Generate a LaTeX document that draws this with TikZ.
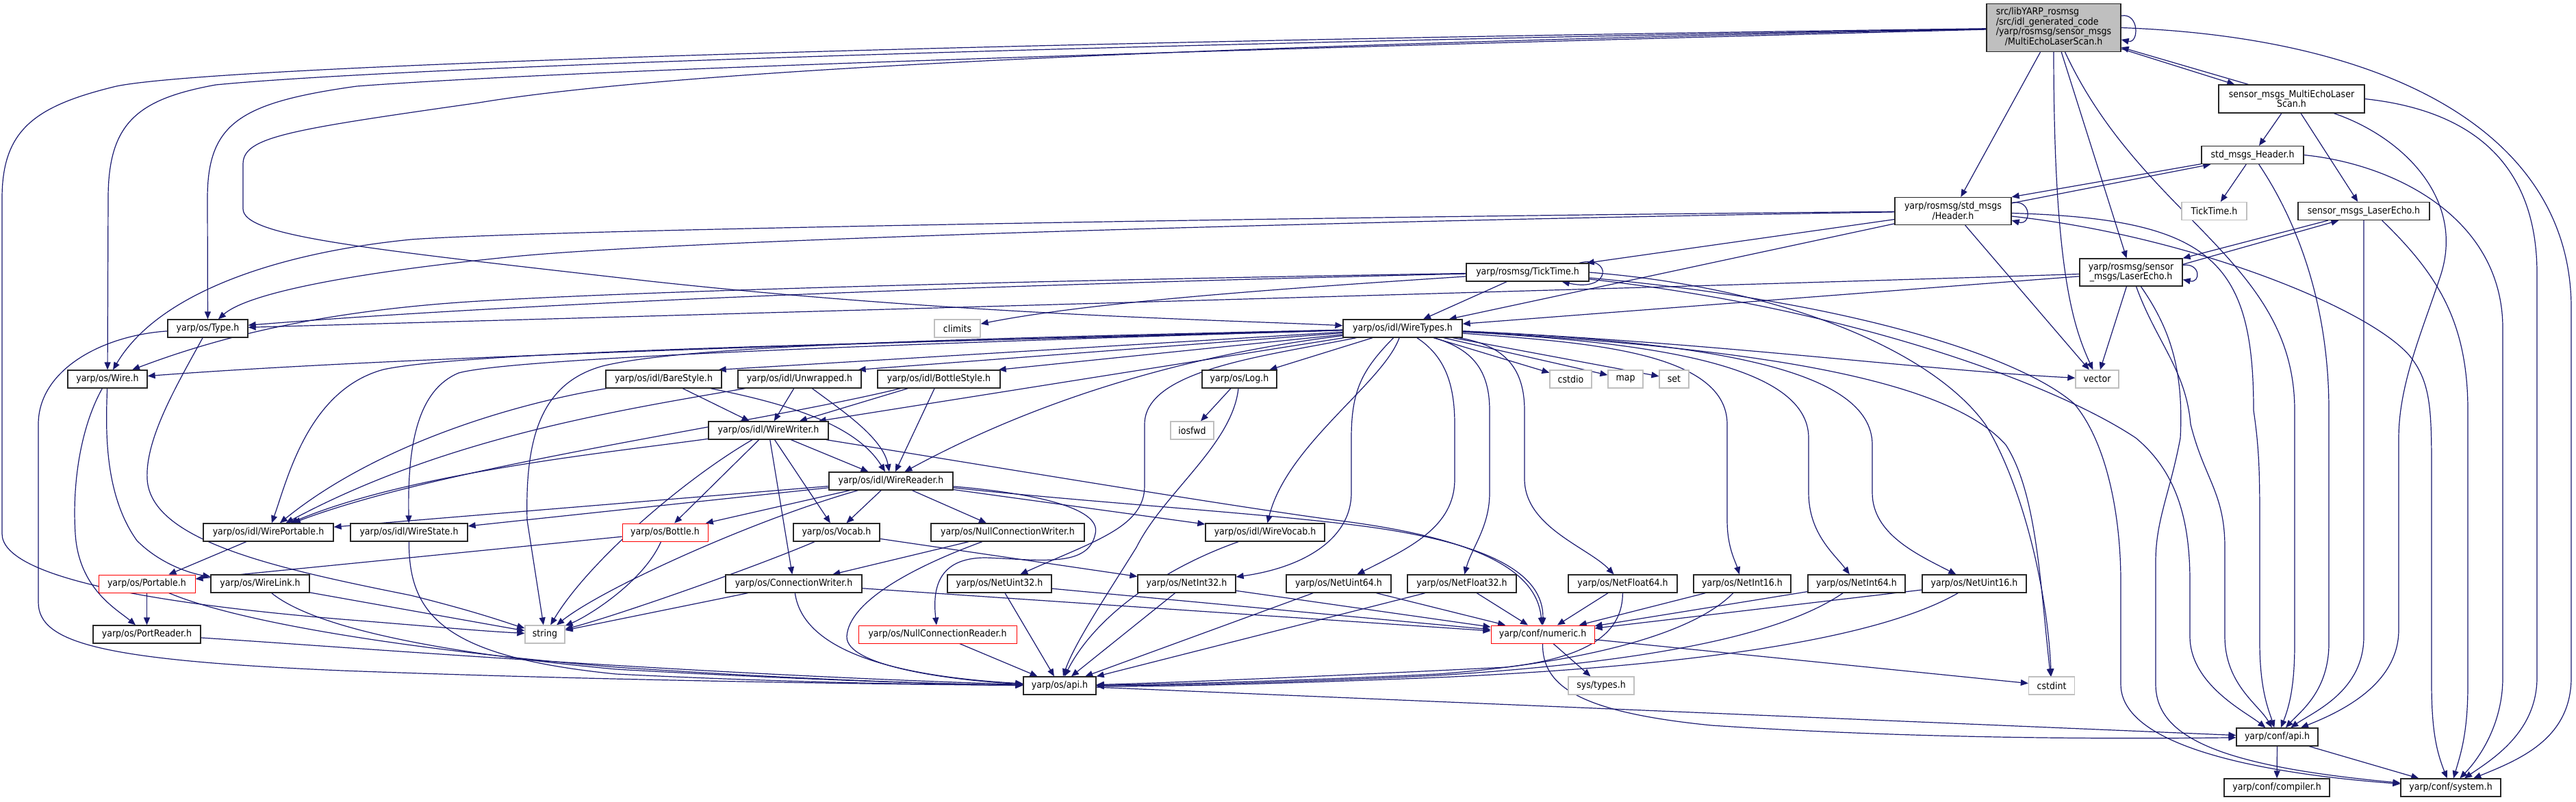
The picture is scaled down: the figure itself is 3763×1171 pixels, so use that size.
\documentclass[tikz,border=0pt]{standalone}
\usepackage{fontspec}
\newfontfamily\dfont{DejaVu Sans Condensed}
\usetikzlibrary{arrows.meta,calc}
\definecolor{eb}{HTML}{191970}
\definecolor{gb}{HTML}{BFBFBF}
\pgfdeclarelayer{bg}
\pgfsetlayers{bg,main}
\newcommand{\nfont}{\dfont\fontsize{14pt}{14.4pt}\selectfont}
\tikzset{
  nd/.style={draw=black!85, line width=1.3pt, fill=white, rectangle, inner sep=0pt, minimum height=26pt, font=\nfont, text=black},
  ex/.style={nd, draw=gb},
  rd/.style={nd, draw=red, line width=1pt},
  mn/.style={nd, fill=gb},
  e/.style={draw=eb, line width=1.2pt, -{Triangle[length=11pt,width=9pt]}}
}
\begin{document}
\begin{tikzpicture}[x=1pt,y=-1pt]
\useasboundingbox (0,0) rectangle (3763,1171);
% ---------------- nodes ----------------
\node[mn, minimum width=196pt, minimum height=70pt] (main) at (3000,40.5) {\begin{tabular}{@{}l@{}}src/libYARP\_rosmsg\\/src/idl\_generated\_code\\/yarp/rosmsg/sensor\_msgs\\\multicolumn{1}{@{}c@{}}{/MultiEchoLaserScan.h}\end{tabular}};
\node[nd, minimum width=213pt, minimum height=41pt, align=center] (multi) at (3347.5,144.5) {sensor\_msgs\_MultiEchoLaser\\Scan.h};
\node[nd, minimum width=149pt] (stdhdr) at (3290.5,226.5) {std\_msgs\_Header.h};
\node[nd, minimum width=170pt, minimum height=40pt, align=center] (roshdr) at (2853,308.5) {yarp/rosmsg/std\_msgs\\/Header.h};
\node[ex, minimum width=95pt] (tickext) at (3234.5,308.5) {TickTime.h};
\node[nd, minimum width=192pt] (laserecho) at (3453,308.5) {sensor\_msgs\_LaserEcho.h};
\node[nd, minimum width=179pt] (rostick) at (2231.5,398) {yarp/rosmsg/TickTime.h};
\node[nd, minimum width=150pt, minimum height=40pt, align=center] (rosecho) at (3113,398) {yarp/rosmsg/sensor\\\_msgs/LaserEcho.h};
\node[nd, minimum width=117pt] (type) at (303.5,480) {yarp/os/Type.h};
\node[ex, minimum width=67pt] (climits) at (1398.5,480) {climits};
\node[nd, minimum width=174pt] (wiretypes) at (2049,480) {yarp/os/idl/WireTypes.h};
\node[nd, minimum width=116pt] (wire) at (157,554) {yarp/os/Wire.h};
\node[nd, minimum width=169pt] (bare) at (969.5,554) {yarp/os/idl/BareStyle.h};
\node[nd, minimum width=180pt] (unwrapped) at (1168,554) {yarp/os/idl/Unwrapped.h};
\node[nd, minimum width=179pt] (bottlestyle) at (1371.5,554) {yarp/os/idl/BottleStyle.h};
\node[nd, minimum width=109pt] (log) at (1810.5,554) {yarp/os/Log.h};
\node[ex, minimum width=61pt] (cstdio) at (2294.5,554) {cstdio};
\node[ex, minimum width=51pt] (map) at (2374.5,554) {map};
\node[ex, minimum width=43pt] (set) at (2445.5,554) {set};
\node[ex, minimum width=63pt] (vector) at (3063.5,554) {vector};
\node[nd, minimum width=175pt] (wirewriter) at (1122.5,629) {yarp/os/idl/WireWriter.h};
\node[ex, minimum width=63pt] (iosfwd) at (1741.5,629) {iosfwd};
\node[nd, minimum width=181pt] (wirereader) at (1301.5,703) {yarp/os/idl/WireReader.h};
\node[nd, minimum width=190pt] (wireportable) at (392,778) {yarp/os/idl/WirePortable.h};
\node[nd, minimum width=171pt] (wirestate) at (597.5,778) {yarp/os/idl/WireState.h};
\node[rd, minimum width=125pt] (bottle) at (971.5,778) {yarp/os/Bottle.h};
\node[nd, minimum width=126pt] (vocab) at (1222,778) {yarp/os/Vocab.h};
\node[nd, minimum width=224pt] (nullwriter) at (1472,778) {yarp/os/NullConnectionWriter.h};
\node[nd, minimum width=174pt] (wirevocab) at (1848,778) {yarp/os/idl/WireVocab.h};
\node[rd, minimum width=141pt] (portable) at (214.5,853) {yarp/os/Portable.h};
\node[nd, minimum width=144pt] (wirelink) at (380,853) {yarp/os/WireLink.h};
\node[nd, minimum width=199pt] (connwriter) at (1159.5,853) {yarp/os/ConnectionWriter.h};
\node[nd, minimum width=152pt] (netuint32) at (1460,853) {yarp/os/NetUint32.h};
\node[nd, minimum width=143pt] (netint32) at (1733.5,853) {yarp/os/NetInt32.h};
\node[nd, minimum width=153pt] (netuint64) at (1955.5,853) {yarp/os/NetUint64.h};
\node[nd, minimum width=159pt] (netfloat32) at (2135.5,853) {yarp/os/NetFloat32.h};
\node[nd, minimum width=159pt] (netfloat64) at (2370.5,853) {yarp/os/NetFloat64.h};
\node[nd, minimum width=142pt] (netint16) at (2545,853) {yarp/os/NetInt16.h};
\node[nd, minimum width=142pt] (netint64) at (2712,853) {yarp/os/NetInt64.h};
\node[nd, minimum width=152pt] (netuint16) at (2884,853) {yarp/os/NetUint16.h};
\node[nd, minimum width=157pt] (portreader) at (214.5,927) {yarp/os/PortReader.h};
\node[ex, minimum width=58pt] (string) at (796,927) {string};
\node[rd, minimum width=231pt] (nullreader) at (1369.5,927) {yarp/os/NullConnectionReader.h};
\node[rd, minimum width=151pt] (numeric) at (2253.5,927) {yarp/conf/numeric.h};
\node[nd, minimum width=106pt] (osapi) at (1548,1002) {yarp/os/api.h};
\node[ex, minimum width=96pt] (systypes) at (2339,1002) {sys/types.h};
\node[ex, minimum width=67pt] (cstdint) at (2997,1002) {cstdint};
\node[nd, minimum width=119pt] (confapi) at (3326.5,1077) {yarp/conf/api.h};
\node[nd, minimum width=154pt] (compiler) at (3326,1151) {yarp/conf/compiler.h};
\node[nd, minimum width=146pt] (system) at (3580,1151) {yarp/conf/system.h};
% ---------------- edges ----------------
\begin{pgfonlayer}{bg}
% main
\draw[e] (main.10) .. controls (3125,18) and (3125,64) .. (main.-10);
\draw[e] (main) -- ($(multi.north west)+(24,0)$);
\draw[e] ($(multi.north west)+(44,0)$) -- (main);
\draw[e] (main) -- (roshdr);
\draw[e] (main) .. controls (3000,400) and (3030,480) .. (vector);
\draw[e] (main) -- (rosecho);
\draw[e] (main) .. controls (3130,320) and (3352,380) .. (3352,600) -- (3352,940) .. controls (3352,1000) and (3345,1030) .. (confapi);
\draw[e] (main.east) .. controls (3500,55) and (3756,200) .. (3756,450) -- (3756,990) .. controls (3756,1080) and (3680,1110) .. (system);
\draw[e] (main) .. controls (1500,60) and (320,95) .. (170,126) .. controls (50,155) and (3,190) .. (3,290) -- (3,780) .. controls (3,840) and (200,880) .. (500,905) .. controls (650,917) and (700,922) .. (string);
\draw[e] (main) .. controls (1500,66) and (560,100) .. (315,124) .. controls (200,145) and (158,180) .. (158,290) -- (wire);
\draw[e] (main) .. controls (1500,80) and (800,105) .. (521,126) .. controls (350,150) and (303,180) .. (303,290) -- (type);
\draw[e] (main) .. controls (1800,65) and (1000,100) .. (700,150) .. controls (420,190) and (355,200) .. (355,240) -- (355,305) .. controls (355,345) and (520,362) .. (950,411) .. controls (1400,460) and (1800,468) .. (wiretypes);
% multi
\draw[e] (multi) -- (stdhdr);
\draw[e] (multi) -- (laserecho);
\draw[e] (multi) .. controls (3510,200) and (3600,290) .. (3566,400) .. controls (3540,480) and (3504,560) .. (3504,640) -- (3504,920) .. controls (3504,1000) and (3420,1040) .. (confapi);
\draw[e] (multi.east) .. controls (3600,160) and (3706,230) .. (3706,400) -- (3706,990) .. controls (3706,1070) and (3640,1110) .. (system);
% stdhdr
\draw[e] (stdhdr) -- (roshdr.north east);
\draw[e] ($(roshdr.north east)+(0,9)$) -- ($(stdhdr.south west)+(14,0)$);
\draw[e] (stdhdr) -- (tickext);
\draw[e] (stdhdr) .. controls (3340,300) and (3402,420) .. (3402,600) -- (3402,940) .. controls (3402,1010) and (3360,1040) .. (confapi);
\draw[e] (stdhdr.east) .. controls (3500,240) and (3656,320) .. (3656,480) -- (3656,990) .. controls (3656,1060) and (3620,1110) .. (system);
% laserecho
\draw[e] (laserecho) -- (rosecho.north east);
\draw[e] ($(rosecho.north east)+(0,9)$) -- ($(laserecho.south west)+(60,0)$);
\draw[e] (laserecho) .. controls (3453,450) and (3453,500) .. (3453,600) -- (3453,930) .. controls (3453,1010) and (3380,1040) .. (confapi);
\draw[e] ($(laserecho.south east)+(-70,0)$) .. controls (3560,400) and (3605,470) .. (3605,600) -- (3605,1000) .. controls (3605,1070) and (3595,1100) .. (system);
% roshdr
\draw[e] (roshdr.8) .. controls (2968,290) and (2968,330) .. (roshdr.-9);
\draw[e] (roshdr) -- ($(rostick.north east)+(-4,0)$);
\draw[e] (roshdr) -- ($(wiretypes.north east)+(-20,0)$);
\draw[e] (roshdr) -- (vector);
\draw[e] (roshdr.-2) .. controls (3230,320) and (3292,380) .. (3292,600) .. controls (3301,660) and (3301,700) .. (3301,780) -- (3301,940) .. controls (3301,1010) and (3315,1040) .. (confapi);
\draw[e] (roshdr.-5) .. controls (3200,345) and (3460,450) .. (3520,520) .. controls (3552,560) and (3552,600) .. (3552,700) -- (3552,1000) .. controls (3552,1070) and (3560,1100) .. (system);
\draw[e] (roshdr) .. controls (2000,316) and (800,335) .. (600,350) .. controls (400,370) and (230,430) .. (wire);
\draw[e] (roshdr) .. controls (2000,322) and (1000,350) .. (750,375) .. controls (500,400) and (360,430) .. (type);
% rosecho
\draw[e] (rosecho.8) .. controls (3215,384) and (3215,414) .. (rosecho.-8);
\draw[e] (rosecho) -- (vector);
\draw[e] (rosecho) -- (wiretypes);
\draw[e] (rosecho) .. controls (2600,415) and (1200,455) .. (type);
\draw[e] (rosecho) .. controls (3150,500) and (3193,540) .. (3200,620) .. controls (3220,700) and (3250,720) .. (3250,800) -- (3250,930) .. controls (3250,1000) and (3300,1030) .. (confapi);
\draw[e] (rosecho) .. controls (3170,480) and (3190,540) .. (3185,640) .. controls (3170,720) and (3149,760) .. (3149,820) -- (3149,1000) .. controls (3149,1080) and (3250,1120) .. (system);
% rostick
\draw[e] ($(rostick.north east)+(-15,0)$) .. controls (2355,372) and (2355,428) .. ($(rostick.south east)+(-40,0)$);
\draw[e] (rostick) -- ($(wiretypes.north)+(30,0)$);
\draw[e] (rostick) .. controls (1500,410) and (950,425) .. (700,440) .. controls (450,455) and (300,500) .. (wire);
\draw[e] (rostick) .. controls (1500,415) and (800,440) .. (type);
\draw[e] (rostick) .. controls (1900,420) and (1600,440) .. (climits);
\draw[e] (rostick.east) .. controls (2600,420) and (2820,510) .. (2900,620) .. controls (2950,700) and (2990,850) .. (cstdint);
\draw[e] (rostick) .. controls (2700,450) and (3000,560) .. (3120,640) .. controls (3180,690) and (3199,760) .. (3199,850) -- (3199,930) .. controls (3199,1000) and (3280,1040) .. (confapi);
\draw[e] (rostick) .. controls (2700,440) and (2950,520) .. (3030,590) .. controls (3080,650) and (3098,760) .. (3098,850) -- (3098,1000) .. controls (3098,1090) and (3300,1130) .. (system);
% wiretypes
\draw[e] (wiretypes) -- ($(bare.north east)+(-5,0)$);
\draw[e] (wiretypes) -- ($(unwrapped.north east)+(-5,0)$);
\draw[e] (wiretypes) -- ($(bottlestyle.north east)+(-3,0)$);
\draw[e] (wiretypes) .. controls (1400,500) and (700,510) .. (560,540) .. controls (450,570) and (420,700) .. (wireportable);
\draw[e] (wiretypes) .. controls (1500,497) and (760,520) .. (670,545) .. controls (610,570) and (595,650) .. (wirestate);
\draw[e] (wiretypes) -- ($(wirewriter.north east)+(-15,0)$);
\draw[e] (wiretypes) .. controls (1800,510) and (1560,560) .. ($(wirereader.north)+(20,0)$);
\draw[e] (wiretypes) .. controls (1400,497) and (600,520) .. (wire);
\draw[e] (wiretypes) .. controls (2020,560) and (1880,650) .. (wirevocab);
\draw[e] (wiretypes) -- (log);
\draw[e] (wiretypes) .. controls (1850,520) and (1672,540) .. (1672,620) -- (1672,710) .. controls (1672,770) and (1600,790) .. (netuint32);
\draw[e] (wiretypes) .. controls (1990,540) and (1974,570) .. (1974,640) -- (1974,720) .. controls (1974,790) and (1900,830) .. (netint32);
\draw[e] (wiretypes) .. controls (2110,520) and (2125,560) .. (2125,620) -- (2125,700) .. controls (2125,770) and (2060,800) .. (netuint64);
\draw[e] (wiretypes) .. controls (2150,510) and (2176,540) .. (2176,600) -- (2176,720) .. controls (2176,770) and (2150,800) .. (netfloat32);
\draw[e] (wiretypes) .. controls (2200,505) and (2227,540) .. (2227,600) -- (2227,700) .. controls (2227,770) and (2320,800) .. (netfloat64);
\draw[e] (wiretypes) .. controls (2300,500) and (2523,510) .. (2523,620) -- (2523,760) .. controls (2523,800) and (2535,820) .. (netint16);
\draw[e] (wiretypes) .. controls (2400,500) and (2642,530) .. (2642,640) -- (2642,720) .. controls (2642,780) and (2680,810) .. (netint64);
\draw[e] (wiretypes) .. controls (2500,500) and (2735,540) .. (2735,650) -- (2735,720) .. controls (2735,780) and (2800,810) .. (netuint16);
\draw[e] (wiretypes) -- (cstdio);
\draw[e] (wiretypes) -- (map);
\draw[e] (wiretypes) -- (set);
\draw[e] (wiretypes) .. controls (2500,500) and (2800,540) .. (vector);
\draw[e] (wiretypes) .. controls (2600,510) and (2850,560) .. (2930,650) .. controls (2975,720) and (2980,850) .. (cstdint);
\draw[e] (wiretypes) .. controls (1400,495) and (1000,505) .. (880,535) .. controls (790,560) and (767,640) .. (770,760) -- (string);
% style headers
\draw[e] (bare) .. controls (750,590) and (550,650) .. (wireportable);
\draw[e] (bare) -- (wirewriter);
\draw[e] (bare) .. controls (1150,590) and (1250,620) .. (wirereader);
\draw[e] (unwrapped) .. controls (900,600) and (650,640) .. (wireportable);
\draw[e] (unwrapped) -- (wirewriter);
\draw[e] (unwrapped) .. controls (1230,600) and (1290,640) .. (wirereader);
\draw[e] (bottlestyle) -- (wirewriter);
\draw[e] (bottlestyle) .. controls (1100,620) and (650,680) .. (wireportable);
\draw[e] (bottlestyle) -- (wirereader);
% wirewriter
\draw[e] (wirewriter) .. controls (900,660) and (600,690) .. (wireportable);
\draw[e] (wirewriter) -- (bottle);
\draw[e] (wirewriter) -- (vocab);
\draw[e] (wirewriter) -- (connwriter);
\draw[e] (wirewriter) -- (wirereader);
\draw[e] (wirewriter) .. controls (1000,700) and (860,820) .. (string);
\draw[e] (wirewriter) .. controls (1500,690) and (1800,740) .. (1950,760) .. controls (2150,785) and (2245,830) .. (numeric);
% wirereader
\draw[e] (wirereader) -- (wireportable);
\draw[e] (wirereader) -- (wirestate);
\draw[e] (wirereader) -- (bottle);
\draw[e] (wirereader) -- (vocab);
\draw[e] (wirereader) -- (nullwriter);
\draw[e] (wirereader) -- (wirevocab);
\draw[e] (wirereader) .. controls (1500,720) and (1610,740) .. (1600,780) .. controls (1590,830) and (1520,818) .. (1440,815) .. controls (1370,815) and (1362,860) .. (nullreader);
\draw[e] (wirereader) .. controls (1100,760) and (880,860) .. (string);
\draw[e] (wirereader) .. controls (1600,735) and (1850,750) .. (2000,770) .. controls (2180,795) and (2255,840) .. (numeric);
% mid level
\draw[e] (wireportable) -- (portable);
\draw[e] (wirestate) .. controls (597,900) and (650,960) .. (900,985) .. controls (1200,1000) and (1400,1000) .. (osapi);
\draw[e] (bottle) -- (portable);
\draw[e] (bottle) .. controls (940,850) and (860,900) .. (string);
\draw[e] (vocab) -- (netint32);
\draw[e] (vocab) .. controls (1100,830) and (900,900) .. (string);
\draw[e] (nullwriter) -- (connwriter);
\draw[e] (nullwriter) .. controls (1330,830) and (1240,880) .. (1237,930) .. controls (1235,975) and (1400,995) .. (osapi);
\draw[e] (connwriter) .. controls (1170,930) and (1250,985) .. (osapi);
\draw[e] (connwriter) -- (string);
\draw[e] (connwriter) -- (numeric);
\draw[e] (nullreader) -- (osapi);
\draw[e] (netuint32) -- (osapi);
\draw[e] (netuint32) -- (numeric);
\draw[e] (netint32) -- (osapi);
\draw[e] (netint32) -- (numeric);
\draw[e] (netuint64) -- (osapi);
\draw[e] (netuint64) -- (numeric);
\draw[e] (netfloat32) -- (osapi);
\draw[e] (netfloat32) -- (numeric);
\draw[e] (netfloat64) .. controls (2370,920) and (2330,960) .. (2200,975) .. controls (1900,990) and (1700,998) .. (osapi);
\draw[e] (netfloat64) -- (numeric);
\draw[e] (netint16) .. controls (2470,930) and (2300,970) .. (2100,985) .. controls (1900,995) and (1700,1000) .. (osapi);
\draw[e] (netint16) -- (numeric);
\draw[e] (netint64) .. controls (2600,930) and (2400,968) .. (2100,987) .. controls (1900,997) and (1700,1002) .. (osapi);
\draw[e] (netint64) -- (numeric);
\draw[e] (netuint16) .. controls (2750,930) and (2500,972) .. (2100,990) .. controls (1900,998) and (1700,1004) .. (osapi);
\draw[e] (netuint16) -- (numeric);
\draw[e] (wirevocab) .. controls (1700,830) and (1600,900) .. (osapi);
\draw[e] (log) -- (iosfwd);
\draw[e] (log) .. controls (1800,650) and (1700,720) .. (1660,800) .. controls (1610,880) and (1570,940) .. (osapi);
% left side
\draw[e] (type) .. controls (150,490) and (56,540) .. (56,620) -- (56,880) .. controls (56,940) and (150,965) .. (500,980) .. controls (900,995) and (1300,1000) .. (osapi);
\draw[e] (type) .. controls (260,560) and (212,640) .. (215,700) .. controls (220,790) and (400,830) .. (600,870) .. controls (700,895) and (740,910) .. (string);
\draw[e] (wire) .. controls (120,620) and (105,700) .. (110,780) .. controls (115,860) and (170,890) .. (portreader);
\draw[e] (wire) .. controls (155,620) and (150,720) .. (200,790) .. controls (240,830) and (290,840) .. (wirelink);
\draw[e] (portable) -- (portreader);
\draw[e] (portable) .. controls (350,910) and (600,950) .. (900,975) .. controls (1200,995) and (1400,1000) .. (osapi);
\draw[e] (wirelink) -- (string);
\draw[e] (wirelink) .. controls (450,910) and (600,950) .. (900,978) .. controls (1200,995) and (1400,1000) .. (osapi);
\draw[e] (portreader) .. controls (500,945) and (1000,985) .. (osapi);
% bottom
\draw[e] (numeric) -- (systypes);
\draw[e] (numeric) .. controls (2253,1000) and (2300,1040) .. (2500,1060) .. controls (2800,1080) and (3100,1080) .. (confapi);
\draw[e] (numeric) -- (cstdint);
\draw[e] (osapi) -- (confapi);
\draw[e] (confapi) -- (compiler);
\draw[e] (confapi) -- (system);
\end{pgfonlayer}
\end{tikzpicture}
\end{document}
